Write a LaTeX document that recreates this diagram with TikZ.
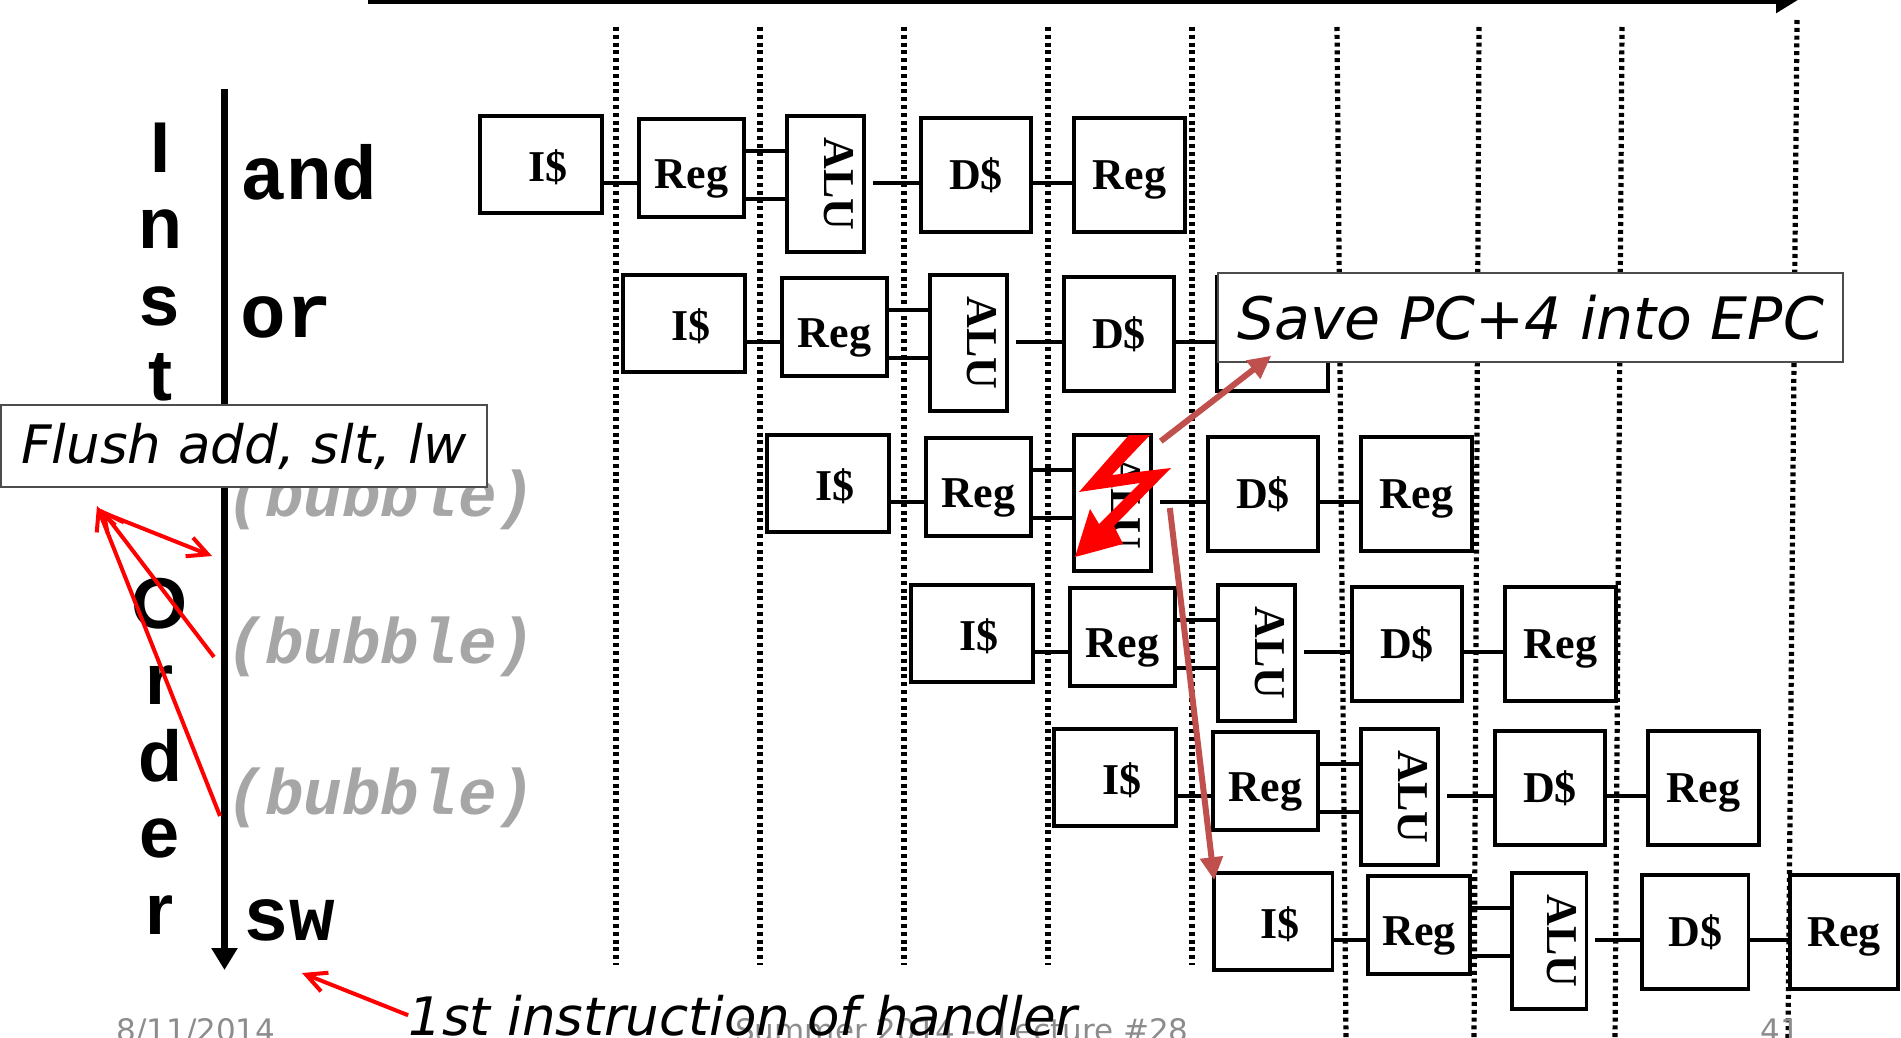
\documentclass[tikz,border=0pt]{standalone}
\usepackage{fontspec}
\usepackage{tikz}
\usetikzlibrary{arrows.meta, positioning, calc}
\newfontfamily\boxfont{Liberation Serif}
\newfontfamily\codefont{Liberation Mono}
\newfontfamily\axisfont{Liberation Sans}
\newfontfamily\notefont{DejaVu Sans}
\definecolor{hazard}{HTML}{FF0000}
\definecolor{epcline}{HTML}{C0504D}
\definecolor{bubblegray}{HTML}{A6A6A6}
\definecolor{footgray}{HTML}{8C8C8C}
\tikzset{
    stage/.style={
        rectangle, draw=black, line width=1.8pt, fill=white, inner sep=0pt,
        text depth=0pt, font=\boxfont\bfseries\fontsize{22}{24}\selectfont
    },
    fetchbox/.style={stage, minimum width=61pt, minimum height=48.5pt, text height=16.5pt,
        execute at begin node={\hspace*{7pt}}},
    regbox/.style={stage, minimum width=52.5pt, minimum height=49pt, text height=20pt},
    alubox/.style={stage, minimum width=38.5pt, minimum height=68pt},
    membox/.style={stage, minimum width=55pt, minimum height=57pt, text height=14.5pt},
    alulabel/.style={
        rotate=-90, inner sep=0pt, font=\boxfont\bfseries\fontsize{22}{24}\selectfont
    },
    wire/.style={line width=2pt},
    cyclemark/.style={line width=2.6pt, dash pattern=on 2pt off 1.9pt},
    axisline/.style={line width=3.8pt, -{Triangle[length=11pt, width=12.5pt]}},
    orderletter/.style={
        anchor=base, inner sep=0pt, font=\axisfont\bfseries\fontsize{36}{38}\selectfont
    },
    instr/.style={
        anchor=base west, inner sep=0pt, font=\codefont\bfseries\fontsize{38}{40}\selectfont
    },
    bubble/.style={
        anchor=base, inner sep=0pt, text=bubblegray,
        font=\codefont\bfseries\itshape\fontsize{32.2}{34}\selectfont
    },
    note/.style={
        rectangle, draw=black!70, line width=0.7pt, fill=white, inner sep=0pt
    },
    footer/.style={
        anchor=base, inner sep=0pt, text=footgray, font=\notefont\fontsize{15.5}{17}\selectfont
    },
    flusharrow/.style={draw=hazard, line width=2pt, -{Straight Barb[length=10pt, width=10pt]}},
    epcarrow/.style={draw=epcline, line width=3pt, -{Triangle[length=11.5pt, width=11pt]}}
}

\begin{document}
\begin{tikzpicture}[x=0.5pt, y=-0.5pt]

    \useasboundingbox (0,0) rectangle (1901,1038);
    \clip (0,0) rectangle (1901,1038);

    % time axis and clock cycle marks
    \coordinate (tstart) at (368,0);
    \coordinate (tend)   at (1798,0);
    \draw[axisline] (tstart) -- (tend);
    \foreach \xa/\xb/\yb in {616/616/965, 760/760/965, 904/904/965, 1048/1048/965, 1192/1192/965,
                             1337/1346/1040, 1479/1474/1040, 1622/1615/1040}
        \draw[cyclemark] (\xa,27) -- (\xb,\yb);
    \draw[cyclemark] (1797,20) -- (1788,1040);

    % instruction order axis
    \foreach \ch/\yy [count=\i] in {I/172, n/248, s/325, t/400, O/628, r/704, d/781, e/857, r/934}
        \node[orderletter] (ord\i) at (160,\yy) {\ch};
    \coordinate (otop) at (224.5,89);
    \coordinate (oend) at (224.5,970);
    \draw[axisline] (otop) -- (oend);

    \node[instr]  (iand) at (240,199) {and};
    \node[instr]  (ior)  at (240,337) {or};
    \node[bubble] (bub1) at (381,516) {(bubble)};
    \node[bubble] (bub2) at (381,663) {(bubble)};
    \node[bubble] (bub3) at (381,814) {(bubble)};
    \node[instr]  (isw)  at (243,940) {sw};

    % pipeline rows
    \foreach \k/\X/\Y/\sc in {1/480/183/1, 2/623/342/1, 3/767/502/1, 4/911/652/1,
                              5/1054/796/1, 6/1214/940/0.97}{
        \coordinate (lane\k) at (\X,\Y);
        \coordinate (hi\k)   at (\X,\Y-32);
        \coordinate (lo\k)   at (\X,\Y+16);
        \node[fetchbox, minimum width=\sc*61pt]   (ic\k)  at (\X+\sc*61,\Y-18.5)  {I\$};
        \node[regbox, minimum width=\sc*52.5pt]   (rf\k)  at (\X+\sc*211.5,\Y-15) {Reg};
        \node[alubox, minimum width=\sc*38.5pt]   (alu\k) at (\X+\sc*345.5,\Y+1)  {};
        \node[alulabel] (alut\k) at ([xshift=6.5pt]alu\k.center) {ALU};
        \node[membox, minimum width=\sc*55pt]     (dc\k)  at (\X+\sc*496,\Y-8)    {D\$};
        \node[membox, minimum width=\sc*55.5pt]   (wb\k)  at (\X+\sc*649.5,\Y-8)  {Reg};
        \draw[wire] (ic\k.east |- lane\k) -- (rf\k.west |- lane\k);
        \draw[wire] (rf\k.east |- hi\k) -- (alu\k.west |- hi\k);
        \draw[wire] (rf\k.east |- lo\k) -- (alu\k.west |- lo\k);
        \draw[wire, shorten <=3.5pt] (alu\k.east |- lane\k) -- (dc\k.west |- lane\k);
        \draw[wire] (dc\k.east |- lane\k) -- (wb\k.west |- lane\k);
    }

    % footer
    \node[footer] (fdate)   at (196,1041)  {8/11/2014};
    \node[footer] (fcourse) at (962,1041)  {Summer 2014 -{}- Lecture \#28};
    \node[footer] (fpage)   at (1780,1041) {41};

    % notes
    \node[note, minimum width=243pt, minimum height=41pt,
          font=\notefont\itshape\fontsize{26.5}{28}\selectfont] (flush) at (244,446)
        {Flush add, slt, lw};
    \node[note, minimum width=312.5pt, minimum height=44.5pt,
          font=\notefont\itshape\fontsize{29.25}{31}\selectfont] (save) at (1530.5,317.5)
        {Save PC+4 into EPC};
    \node[anchor=base, inner sep=0pt,
          font=\notefont\itshape\fontsize{26.5}{28}\selectfont] (handler) at (743,1035)
        {1st instruction of handler};

    % exception in the ALU
    \fill[hazard] (1129,435) -- (1150,435) -- (1112,475) -- (1171,468) -- (1114,526)
        -- (1123,544) -- (1075,557) -- (1090,509) -- (1099,524) -- (1140,483)
        -- (1079,492) -- cycle;
    \draw[epcarrow] ([shift={(8,8)}]alu3.north east) -- ([shift={(54,-7)}]save.south west);
    \draw[epcarrow] ([shift={(17,5)}]alu3.east) -- ([shift={(2,9)}]ic6.north west);

    % flushed instructions
    \coordinate (fl0)   at (104,513);
    \coordinate (flb1)  at (212,556);
    \coordinate (flb2)  at (214,657);
    \coordinate (flb3)  at (220,816);
    \coordinate (flt2)  at (101,509);
    \coordinate (flt3)  at (97,506);
    \coordinate (hdtip) at (302,973);
    \draw[flusharrow] (fl0) -- (flb1);
    \draw[flusharrow] (flb2) -- (flt2);
    \draw[flusharrow] (flb3) -- (flt3);
    \draw[flusharrow] (handler.west) -- (hdtip);

\end{tikzpicture}
\end{document}
